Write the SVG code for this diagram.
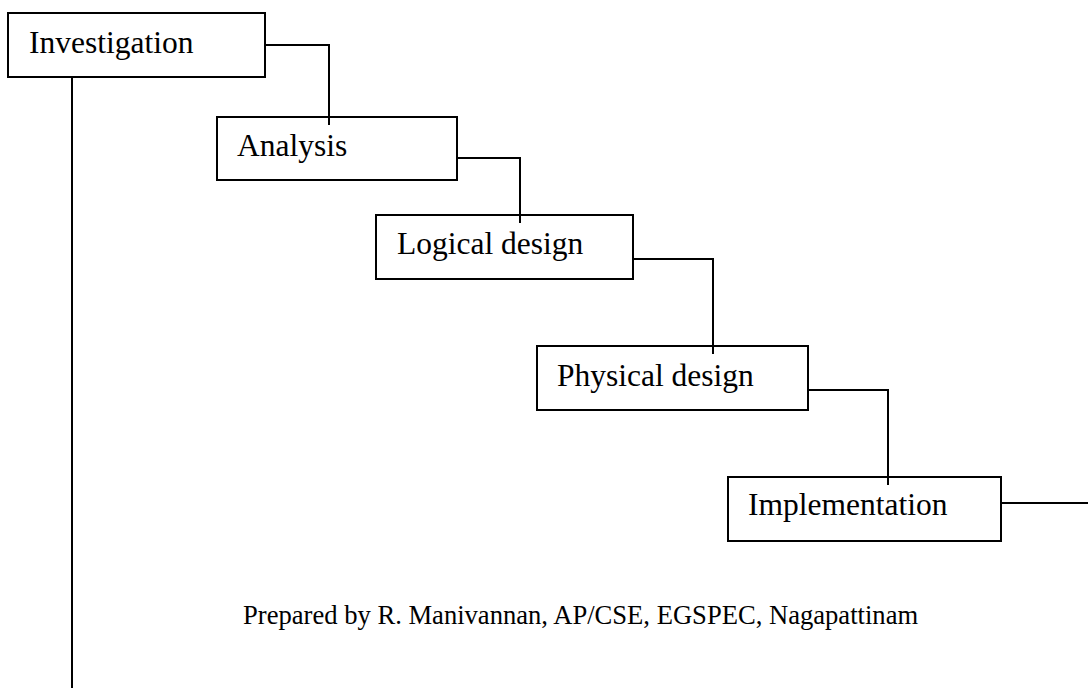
<svg xmlns="http://www.w3.org/2000/svg" width="1088" height="688" viewBox="0 0 1088 688">
<style>
.box{fill:#fff;stroke:#000;stroke-width:2}
.lbl{font-family:"Liberation Serif","Times New Roman",serif;font-size:31.5px;fill:#000}
.ftr{font-family:"Liberation Serif","Times New Roman",serif;font-size:26.6px;fill:#000}
.con{fill:none;stroke:#000;stroke-width:2}
</style>
<rect width="1088" height="688" fill="#fff"/>
<g id="connectors">
<polyline class="con" points="265,45 329,45 329,125"/>
<polyline class="con" points="457,158 520,158 520,223"/>
<polyline class="con" points="633,259 713,259 713,354"/>
<polyline class="con" points="808,390 888,390 888,485"/>
<polyline class="con" points="1001,503 1088,503"/>
<polyline class="con" points="72,77 72,688"/>
</g>
<g id="investigation">
<rect class="box" x="8" y="13" width="257" height="64"/>
<text class="lbl" x="29" y="53">Investigation</text>
</g>
<g id="analysis">
<rect class="box" x="217" y="117" width="240" height="63"/>
<text class="lbl" x="237" y="156">Analysis</text>
</g>
<g id="logical">
<rect class="box" x="376" y="215" width="257" height="64"/>
<text class="lbl" x="397" y="254">Logical design</text>
</g>
<g id="physical">
<rect class="box" x="537" y="346" width="271" height="64"/>
<text class="lbl" x="557" y="386">Physical design</text>
</g>
<g id="implementation">
<rect class="box" x="728" y="477" width="273" height="64"/>
<text class="lbl" x="748" y="515">Implementation</text>
</g>
<g id="connector-ends">
<polyline class="con" points="329,117 329,125"/>
<polyline class="con" points="520,215 520,223"/>
<polyline class="con" points="713,346 713,354"/>
<polyline class="con" points="888,477 888,485"/>
</g>
<text class="ftr" x="243" y="624">Prepared by R. Manivannan, AP/CSE, EGSPEC, Nagapattinam</text>
</svg>
